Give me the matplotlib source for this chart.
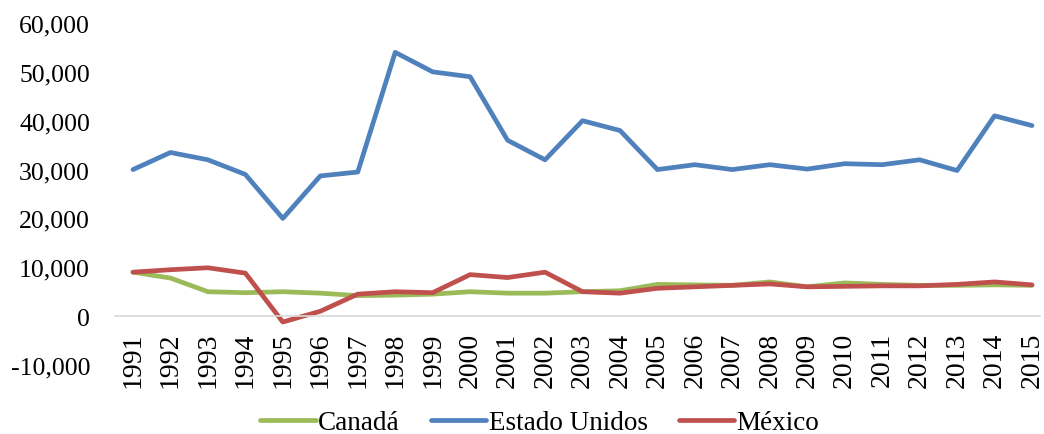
import matplotlib
matplotlib.use("Agg")
import matplotlib.pyplot as plt
from matplotlib.ticker import FuncFormatter

years = [str(y) for y in range(1991, 2016)]
canada = [9000, 7800, 5000, 4800, 5000, 4700, 4200, 4300, 4500, 5000, 4700, 4700, 5000,
          5200, 6500, 6400, 6300, 7000, 6000, 6800, 6500, 6300, 6300, 6400, 6300]
usa = [30000, 33500, 32000, 29000, 20000, 28700, 29500, 54000, 50000, 49000, 36000, 32000,
       40000, 38000, 30000, 31000, 30000, 31000, 30100, 31200, 31000, 32000, 29800, 41000, 39000]
mexico = [9000, 9500, 9900, 8800, -1200, 1000, 4500, 5000, 4800, 8500, 7900, 9000, 5000,
          4700, 5700, 6000, 6300, 6600, 6000, 6100, 6200, 6200, 6500, 7000, 6400]

plt.rcParams['font.family'] = ['Liberation Serif', 'DejaVu Serif']

W, H = 1044, 435
fig = plt.figure(figsize=(W/100, H/100), dpi=100)
left, right, top, bottom = 115, 1040, 24, 366
ax = fig.add_axes([left/W, 1-bottom/H, (right-left)/W, (bottom-top)/H])

for s in ['top', 'right', 'left']:
    ax.spines[s].set_visible(False)
ax.spines['bottom'].set_position(('data', 0))
ax.spines['bottom'].set_color('#D9D9D9')
ax.spines['bottom'].set_linewidth(1.2)

x = list(range(len(years)))
lw = 3.4
l1, = ax.plot(x, canada, color='#9BBB59', lw=lw, label='Canadá', solid_joinstyle='round', solid_capstyle='round')
l2, = ax.plot(x, usa, color='#4F81BD', lw=lw, label='Estado Unidos', solid_joinstyle='round', solid_capstyle='round')
l3, = ax.plot(x, mexico, color='#C0504D', lw=lw, label='México', solid_joinstyle='round', solid_capstyle='round')

ax.set_ylim(-10000, 60000)
ax.set_yticks(range(-10000, 60001, 10000))
ax.yaxis.set_major_formatter(FuncFormatter(lambda v, p: f"{int(v):,}"))
ax.set_xlim(-(133-left)/37.46, 24 + (right-1032)/37.46)
ax.set_xticks(x)
ax.set_xticklabels(years, rotation=90)

ax.tick_params(axis='both', length=0)
ax.tick_params(axis='y', pad=18, labelsize=18.5)
ax.tick_params(axis='x', pad=11, labelsize=20)

fig.legend(handles=[l1, l2, l3], loc='center', bbox_to_anchor=(0.517, 1-424/H), ncol=3,
           frameon=False, fontsize=19.5, handlelength=2.05, handletextpad=0.08, columnspacing=1.15)

fig.savefig('out.png', dpi=100)
